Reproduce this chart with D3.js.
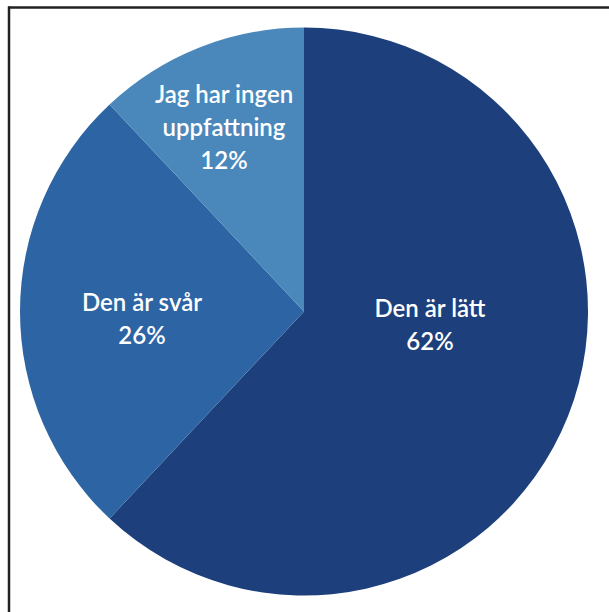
<!DOCTYPE html>
<html>
<head>
<meta charset="utf-8">
<script src="https://cdn.jsdelivr.net/npm/d3@7"></script>
<style>
  html, body { margin: 0; padding: 0; background: #fff; }
  svg { display: block; }
</style>
</head>
<body>
<svg id="chart" width="609" height="612"></svg>
<script>
// Data
const categories = ["Den är lätt", "Den är svår", "Jag har ingen uppfattning"];
const values = [62, 26, 12];
const labelLines = [["Den är lätt"], ["Den är svår"], ["Jag har ingen", "uppfattning"]];
const colors = ["#1d3f7b", "#2d64a4", "#4a88bb"];

const W = 609, H = 612;
const svg = d3.select("#chart");

// frame (top and left edges visible)
svg.append("line").attr("x1", 8).attr("x2", W).attr("y1", 7.5).attr("y2", 7.5)
  .attr("stroke", "#222").attr("stroke-width", 2.5);
svg.append("line").attr("x1", 9).attr("x2", 9).attr("y1", 6.5).attr("y2", H)
  .attr("stroke", "#222").attr("stroke-width", 2.5);

const cx = 304, cy = 311.5, R = 284;
const g = svg.append("g").attr("transform", `translate(${cx},${cy})`);

const pie = d3.pie().sort(null).value(d => d.value);
const data = categories.map((c, i) => ({ name: c, value: values[i], lines: labelLines[i], color: colors[i] }));
const arcs = pie(data);
const arc = d3.arc().innerRadius(0).outerRadius(R);

g.selectAll("path.slice").data(arcs).enter().append("path")
  .attr("class", "slice")
  .attr("d", arc)
  .attr("fill", d => d.data.color)
  .attr("stroke", "none");

// label placement (layout): offset of first baseline relative to centre
const labelPos = [[126, 5], [-162, -1], [-80, -209]];
const lineH = 33;

arcs.forEach((a, i) => {
  const lines = a.data.lines.concat([Math.round(a.data.value) + "%"]);
  const t = g.append("text")
    .attr("text-anchor", "middle")
    .attr("fill", "#fff")
    .attr("font-family", "Lato, 'Open Sans', sans-serif")
    .attr("font-weight", 600)
    .attr("font-size", 24);
  lines.forEach((ln, j) => {
    t.append("tspan")
      .attr("x", labelPos[i][0])
      .attr("y", labelPos[i][1] + j * lineH)
      .text(ln);
  });
});
</script>
</body>
</html>
